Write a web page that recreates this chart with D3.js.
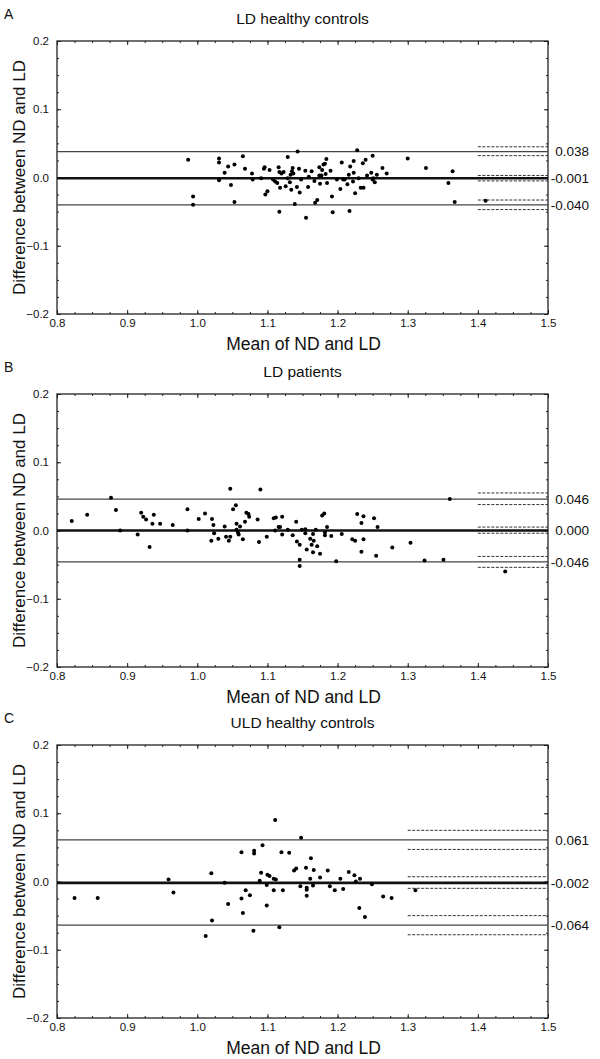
<!DOCTYPE html>
<html><head><meta charset="utf-8">
<script src="https://cdn.jsdelivr.net/npm/d3@7"></script>
<style>
body{margin:0;background:#fff;}
svg{display:block;font-family:"Liberation Sans",Arial,sans-serif;}
</style></head>
<body><svg id="chart" width="600" height="1059"></svg>
<script>
// ---------- data ----------
const panelLetters = ["A","B","C"];
const panelTitles = ["LD healthy controls","LD patients","ULD healthy controls"];
const xTickValues = [0.8,0.9,1.0,1.1,1.2,1.3,1.4,1.5];
const yTickValues = [-0.2,-0.1,0.0,0.1,0.2];

// Bland-Altman lines: [upper LoA, mean bias, lower LoA]
const linesA = [0.038,-0.001,-0.040];
const linesB = [0.046,0.000,-0.046];
const linesC = [0.061,-0.002,-0.064];
const lineLabelsA = ["0.038","-0.001","-0.040"];
const lineLabelsB = ["0.046","0.000","-0.046"];
const lineLabelsC = ["0.061","-0.002","-0.064"];
// confidence limits (dashed) for each line
const ciA = [0.045,0.032,0.003,-0.005,-0.033,-0.047];
const ciB = [0.055,0.038,0.005,-0.004,-0.038,-0.054];
const ciC = [0.075,0.047,0.007,-0.010,-0.050,-0.078];
const ciStart = [1.4,1.4,1.3];

// points: [mean of ND and LD, difference]
const pointsA = [
[0.987,0.026],[0.994,-0.028],[0.994,-0.040],[1.031,0.028],[1.031,0.022],[1.031,-0.004],[1.039,0.007],[1.044,0.016],
[1.048,-0.011],[1.053,0.019],[1.053,-0.036],[1.065,0.031],[1.068,0.013],[1.078,0.006],[1.079,-0.003],[1.091,-0.001],
[1.095,0.013],[1.096,0.015],[1.097,-0.025],[1.100,-0.020],[1.103,0.011],[1.108,-0.003],[1.111,-0.006],[1.114,-0.008],
[1.116,0.015],[1.117,0.008],[1.117,-0.050],[1.118,-0.015],[1.120,0.006],[1.123,0.008],[1.126,-0.013],[1.129,0.030],
[1.129,-0.001],[1.132,-0.007],[1.133,0.004],[1.135,0.009],[1.134,-0.018],[1.136,0.014],[1.137,0.006],[1.139,-0.039],
[1.142,-0.014],[1.143,0.038],[1.145,0.013],[1.146,-0.022],[1.148,-0.003],[1.154,0.010],[1.155,-0.059],[1.158,-0.014],
[1.159,0.001],[1.163,0.009],[1.167,-0.005],[1.168,-0.037],[1.171,-0.033],[1.174,0.015],[1.174,0.003],[1.175,-0.009],
[1.177,0.003],[1.178,0.011],[1.180,0.019],[1.182,0.020],[1.184,0.027],[1.183,0.005],[1.185,-0.008],[1.190,0.010],
[1.192,-0.028],[1.193,-0.051],[1.199,-0.003],[1.204,-0.017],[1.206,0.022],[1.208,-0.003],[1.210,-0.003],[1.214,-0.010],
[1.216,0.004],[1.217,-0.049],[1.218,0.016],[1.222,-0.006],[1.223,0.024],[1.223,0.007],[1.225,-0.023],[1.228,0.040],
[1.230,-0.001],[1.233,-0.015],[1.237,-0.015],[1.236,0.021],[1.240,0.026],[1.242,0.003],[1.248,0.007],[1.250,0.032],
[1.250,-0.003],[1.251,-0.001],[1.253,-0.007],[1.256,0.004],[1.264,0.014],[1.270,0.006],[1.300,0.028],[1.326,0.014],
[1.364,0.009],[1.358,-0.008],[1.367,-0.036],[1.411,-0.034]
];
const pointsB = [
[0.821,0.014],[0.843,0.023],[0.877,0.048],[0.884,0.030],[0.890,0.000],[0.915,-0.006],[0.920,0.026],[0.923,0.020],
[0.927,0.016],[0.932,-0.024],[0.936,0.010],[0.938,0.023],[0.947,0.010],[0.965,0.008],[0.986,0.031],[0.986,0.000],
[1.002,0.017],[1.011,0.025],[1.021,0.017],[1.023,0.008],[1.024,-0.004],[1.020,-0.015],[1.030,-0.012],[1.039,0.006],
[1.041,-0.009],[1.045,-0.015],[1.047,0.061],[1.047,-0.009],[1.051,0.031],[1.055,0.037],[1.056,0.010],[1.056,0.001],
[1.058,-0.003],[1.059,-0.006],[1.061,0.006],[1.065,-0.013],[1.068,0.013],[1.070,0.026],[1.073,0.024],[1.074,0.020],
[1.086,0.016],[1.088,-0.017],[1.090,0.060],[1.099,-0.009],[1.109,0.018],[1.112,0.019],[1.116,0.005],[1.121,0.020],
[1.111,0.000],[1.118,0.005],[1.121,-0.006],[1.129,0.001],[1.136,-0.007],[1.141,0.013],[1.142,-0.016],[1.146,-0.021],
[1.146,-0.043],[1.146,-0.052],[1.149,0.001],[1.154,0.002],[1.154,-0.004],[1.156,-0.028],[1.161,-0.012],[1.163,-0.021],
[1.165,-0.005],[1.166,-0.015],[1.165,-0.032],[1.169,0.001],[1.171,-0.023],[1.175,-0.034],[1.178,0.022],[1.181,0.025],
[1.182,-0.003],[1.182,-0.007],[1.185,0.005],[1.191,-0.008],[1.198,-0.045],[1.206,-0.005],[1.221,-0.013],[1.225,-0.015],
[1.228,0.024],[1.234,0.011],[1.237,0.021],[1.234,-0.031],[1.237,-0.013],[1.252,0.018],[1.255,-0.037],[1.257,0.005],
[1.278,-0.025],[1.304,-0.018],[1.324,-0.044],[1.351,-0.043],[1.360,0.046],[1.439,-0.060]
];
const pointsC = [
[0.825,-0.024],[0.858,-0.024],[0.959,0.003],[0.966,-0.016],[1.020,0.012],[1.021,-0.057],[1.012,-0.080],[1.039,-0.002],
[1.044,-0.033],[1.063,0.043],[1.063,-0.025],[1.065,-0.046],[1.069,-0.013],[1.075,-0.020],[1.080,-0.072],[1.081,0.045],
[1.081,0.041],[1.089,0.001],[1.091,0.013],[1.093,0.053],[1.099,-0.005],[1.099,-0.035],[1.100,0.010],[1.103,0.008],
[1.109,0.004],[1.109,-0.013],[1.111,0.090],[1.112,0.003],[1.117,-0.067],[1.120,0.043],[1.122,-0.013],[1.131,0.042],
[1.138,0.016],[1.141,0.019],[1.147,-0.007],[1.148,0.064],[1.155,0.020],[1.156,-0.009],[1.156,-0.012],[1.156,-0.021],
[1.161,0.004],[1.162,0.034],[1.165,-0.006],[1.166,0.017],[1.175,0.006],[1.186,0.016],[1.189,-0.007],[1.196,-0.013],
[1.204,0.004],[1.208,-0.011],[1.216,0.014],[1.224,0.009],[1.226,0.000],[1.232,0.004],[1.231,-0.039],[1.239,-0.052],
[1.249,-0.004],[1.265,-0.022],[1.277,-0.024],[1.311,-0.013]
];

const panels = [
  {points: pointsA, lines: linesA, labels: lineLabelsA, ci: ciA},
  {points: pointsB, lines: linesB, labels: lineLabelsB, ci: ciB},
  {points: pointsC, lines: linesC, labels: lineLabelsC, ci: ciC}
];

// ---------- drawing ----------
const svg = d3.select("#chart");
const left = 57, right = 548, plotH = 273;
const tops = [41, 394, 745];
const x = d3.scaleLinear().domain([0.8,1.5]).range([left,right]);
const minorX = d3.range(0,29).map(i => 0.8 + i*0.025);
const minorY = d3.range(0,17).map(i => -0.2 + i*0.025);
const fmt = d3.format(".1f");

panels.forEach((p, i) => {
  const top = tops[i], bottom = top + plotH;
  const y = d3.scaleLinear().domain([-0.2,0.2]).range([bottom, top]);
  const g = svg.append("g");

  g.append("text").attr("x",4).attr("y",top-22).attr("font-size",14).attr("fill","#111").text(panelLetters[i]);
  g.append("text").attr("x",(left+right)/2).attr("y",top-17).attr("text-anchor","middle")
    .attr("font-size",15.5).attr("fill","#111").text(panelTitles[i]);

  // axes (ticks inward)
  const styleAxis = sel => { sel.select(".domain").remove(); sel.selectAll("line").attr("stroke","#222"); sel.selectAll("text").attr("fill","#111"); };
  g.append("g").attr("transform",`translate(0,${bottom})`)
    .call(d3.axisBottom(x).tickValues(minorX).tickSize(-2).tickFormat("")).call(styleAxis);
  g.append("g").attr("transform",`translate(0,${bottom})`)
    .call(d3.axisBottom(x).tickValues(xTickValues).tickSize(-4).tickPadding(5).tickFormat(fmt))
    .call(styleAxis).selectAll("text").attr("font-size",11.5).attr("font-family","Liberation Sans, Arial, sans-serif");
  g.append("g").attr("transform",`translate(0,${top})`)
    .call(d3.axisTop(x).tickValues(minorX).tickSize(-2).tickFormat("")).call(styleAxis);
  g.append("g").attr("transform",`translate(0,${top})`)
    .call(d3.axisTop(x).tickValues(xTickValues).tickSize(-4).tickFormat("")).call(styleAxis);
  g.append("g").attr("transform",`translate(${left},0)`)
    .call(d3.axisLeft(y).tickValues(minorY).tickSize(-2).tickFormat("")).call(styleAxis);
  g.append("g").attr("transform",`translate(${left},0)`)
    .call(d3.axisLeft(y).tickValues(yTickValues).tickSize(-4).tickPadding(8).tickFormat(fmt))
    .call(styleAxis).selectAll("text").attr("font-size",11.5).attr("font-family","Liberation Sans, Arial, sans-serif");
  g.append("g").attr("transform",`translate(${right},0)`)
    .call(d3.axisRight(y).tickValues(minorY).tickSize(-2).tickFormat("")).call(styleAxis);
  g.append("g").attr("transform",`translate(${right},0)`)
    .call(d3.axisRight(y).tickValues(yTickValues).tickSize(-4).tickFormat("")).call(styleAxis);

  g.append("rect").attr("x",left).attr("y",top).attr("width",right-left).attr("height",plotH)
    .attr("fill","none").attr("stroke","#222").attr("stroke-width",1.3);

  // axis titles
  g.append("text").attr("transform",`translate(25,${(top+bottom)/2}) rotate(-90)`).attr("text-anchor","middle")
    .attr("font-size",17).attr("fill","#111").text("Difference between ND and LD");
  g.append("text").attr("x",(left+right)/2 + 1).attr("y",bottom+36).attr("text-anchor","middle")
    .attr("font-size",17.5).attr("fill","#111").text("Mean of ND and LD");

  // CI dashed lines
  g.selectAll(".ci").data(p.ci).join("line")
    .attr("x1",x(ciStart[i])).attr("x2",x(1.5)).attr("y1",d=>y(d)).attr("y2",d=>y(d))
    .attr("stroke","#333").attr("stroke-width",1).attr("stroke-dasharray","3,1.5");

  // bias & LoA lines
  g.selectAll(".ln").data(p.lines).join("line")
    .attr("x1",left).attr("x2",right).attr("y1",d=>y(d)).attr("y2",d=>y(d))
    .attr("stroke",(d,j)=> j===1 ? "#111" : "#444").attr("stroke-width",(d,j)=> j===1 ? 2.6 : 1.3);

  g.selectAll(".lab").data(p.lines).join("text")
    .attr("x",589).attr("y",d=>y(d)).attr("dy","0.35em").attr("text-anchor","end")
    .attr("font-size",13.5).attr("fill","#111").text((d,j)=>p.labels[j]);

  // points
  g.selectAll("circle").data(p.points).join("circle")
    .attr("cx",d=>x(d[0])).attr("cy",d=>y(d[1])).attr("r",2).attr("fill","#000");
});
</script></body></html>
